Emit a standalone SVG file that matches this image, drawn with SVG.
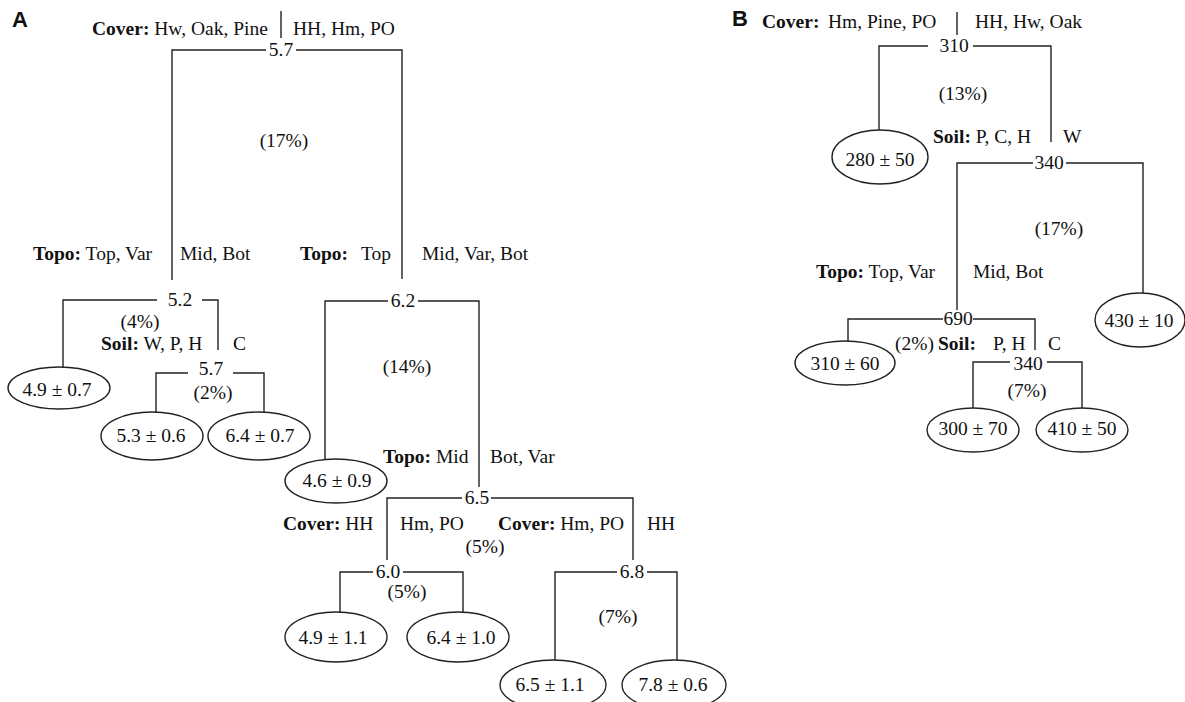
<svg xmlns="http://www.w3.org/2000/svg" width="1185" height="702" viewBox="0 0 1185 702">
<style>
text{font-family:"Liberation Serif","Times New Roman",serif;font-size:19.5px;fill:#111}
.c{text-anchor:middle}
.b{font-weight:bold}
.panel{font-family:"Liberation Sans",Arial,sans-serif;font-size:22px;font-weight:bold}
.ln{fill:none;stroke:#222;stroke-width:1.4}
ellipse{fill:#fff;stroke:#222;stroke-width:1.4}
</style>
<rect width="1185" height="702" fill="#fff"/>
<g id="connectors" class="ln">
<path d="M281,11V38"/>
<path d="M172,280V50H266M296,50H402V279"/>
<path d="M63,367V300H157M202,300H218V350"/>
<path d="M156,412V373H188M233,373H264V412"/>
<path d="M325,459V301H388M418,301H479V487"/>
<path d="M387,560V498H462M491,498H633V560"/>
<path d="M340,612V572H373M403,572H463V612"/>
<path d="M555,660V572H617M647,572H677V660"/>
<path d="M957,12V35"/>
<path d="M879,130V46H928M973,46H1051V142"/>
<path d="M957,310V163H1033M1066,163H1143V293"/>
<path d="M848,341V319H943M973,319H1035V350"/>
<path d="M973,408V362H1010M1047,362H1082V408"/>
</g>
<text class="panel" x="12" y="27">A</text>
<text class="panel" x="732" y="26">B</text>
<g id="A_root">
<text x="92" y="35"><tspan class="b">Cover:</tspan> Hw, Oak, Pine</text>
<text x="293" y="35">HH, Hm, PO</text>
<text class="c" x="281" y="56">5.7</text>
<text class="c" x="284" y="147">(17%)</text>
</g>
<g id="A_n52">
<text x="33" y="260"><tspan class="b">Topo:</tspan> Top, Var</text>
<text x="180" y="260">Mid, Bot</text>
<text class="c" x="180" y="306">5.2</text>
<text class="c" x="140" y="328">(4%)</text>
</g>
<g id="A_n57">
<text x="101" y="350"><tspan class="b">Soil:</tspan> W, P, H</text>
<text x="233" y="350">C</text>
<text class="c" x="211" y="375">5.7</text>
<text class="c" x="213" y="399">(2%)</text>
</g>
<g id="A_leaf49a"><ellipse cx="59" cy="388" rx="51" ry="21"/><text class="c" x="57" y="396">4.9 ± 0.7</text></g>
<g id="A_leaf53"><ellipse cx="152" cy="436" rx="51" ry="24"/><text class="c" x="151" y="442">5.3 ± 0.6</text></g>
<g id="A_leaf64a"><ellipse cx="259" cy="436" rx="51" ry="24"/><text class="c" x="260" y="442">6.4 ± 0.7</text></g>
<g id="A_n62">
<text x="300" y="260" class="b">Topo:</text>
<text x="361" y="260">Top</text>
<text x="422" y="260">Mid, Var, Bot</text>
<text class="c" x="403" y="307">6.2</text>
<text class="c" x="407" y="373">(14%)</text>
</g>
<g id="A_leaf46"><ellipse cx="336" cy="481" rx="51" ry="22"/><text class="c" x="337" y="487">4.6 ± 0.9</text></g>
<g id="A_n65">
<text x="383" y="463"><tspan class="b">Topo:</tspan> Mid</text>
<text x="490" y="463">Bot, Var</text>
<text class="c" x="477" y="504">6.5</text>
<text class="c" x="485" y="553">(5%)</text>
</g>
<g id="A_n60">
<text x="283" y="530"><tspan class="b">Cover:</tspan> HH</text>
<text x="400" y="530">Hm, PO</text>
<text class="c" x="388" y="578">6.0</text>
<text class="c" x="407" y="598">(5%)</text>
</g>
<g id="A_leaf49b"><ellipse cx="336" cy="637" rx="51" ry="25"/><text class="c" x="333" y="644">4.9 ± 1.1</text></g>
<g id="A_leaf64b"><ellipse cx="458" cy="637" rx="51" ry="25"/><text class="c" x="461" y="644">6.4 ± 1.0</text></g>
<g id="A_n68">
<text x="498" y="530"><tspan class="b">Cover:</tspan> Hm, PO</text>
<text x="647" y="530">HH</text>
<text class="c" x="632" y="578">6.8</text>
<text class="c" x="618" y="623">(7%)</text>
</g>
<g id="A_leaf65"><ellipse cx="553" cy="685" rx="53" ry="25"/><text class="c" x="550" y="691">6.5 ± 1.1</text></g>
<g id="A_leaf78"><ellipse cx="674" cy="685" rx="52" ry="25"/><text class="c" x="673" y="691">7.8 ± 0.6</text></g>
<g id="B_root">
<text x="762" y="28" class="b">Cover:</text>
<text x="828" y="28">Hm, Pine, PO</text>
<text x="975" y="28">HH, Hw, Oak</text>
<text class="c" x="954" y="52">310</text>
<text class="c" x="963" y="100">(13%)</text>
</g>
<g id="B_leaf280"><ellipse cx="880" cy="157" rx="48" ry="27"/><text class="c" x="880" y="166">280 ± 50</text></g>
<g id="B_n340a">
<text x="933" y="143"><tspan class="b">Soil:</tspan> P, C, H</text>
<text x="1063" y="143">W</text>
<text class="c" x="1049" y="169">340</text>
<text class="c" x="1059" y="235">(17%)</text>
</g>
<g id="B_leaf430"><ellipse cx="1140" cy="320" rx="45" ry="27"/><text class="c" x="1139" y="327">430 ± 10</text></g>
<g id="B_n690">
<text x="816" y="278"><tspan class="b">Topo:</tspan> Top, Var</text>
<text x="973" y="278">Mid, Bot</text>
<text class="c" x="958" y="325">690</text>
</g>
<g id="B_leaf310"><ellipse cx="845" cy="363" rx="50" ry="22"/><text class="c" x="845" y="370">310 ± 60</text></g>
<g id="B_n340b">
<text x="895" y="350">(2%)</text>
<text x="938" y="350" class="b">Soil:</text>
<text x="993" y="350">P, H</text>
<text x="1048" y="350">C</text>
<text class="c" x="1028" y="370">340</text>
<text class="c" x="1027" y="397">(7%)</text>
</g>
<g id="B_leaf300"><ellipse cx="973" cy="430" rx="46" ry="22"/><text class="c" x="973" y="435">300 ± 70</text></g>
<g id="B_leaf410"><ellipse cx="1082" cy="430" rx="46" ry="22"/><text class="c" x="1082" y="435">410 ± 50</text></g>
</svg>
